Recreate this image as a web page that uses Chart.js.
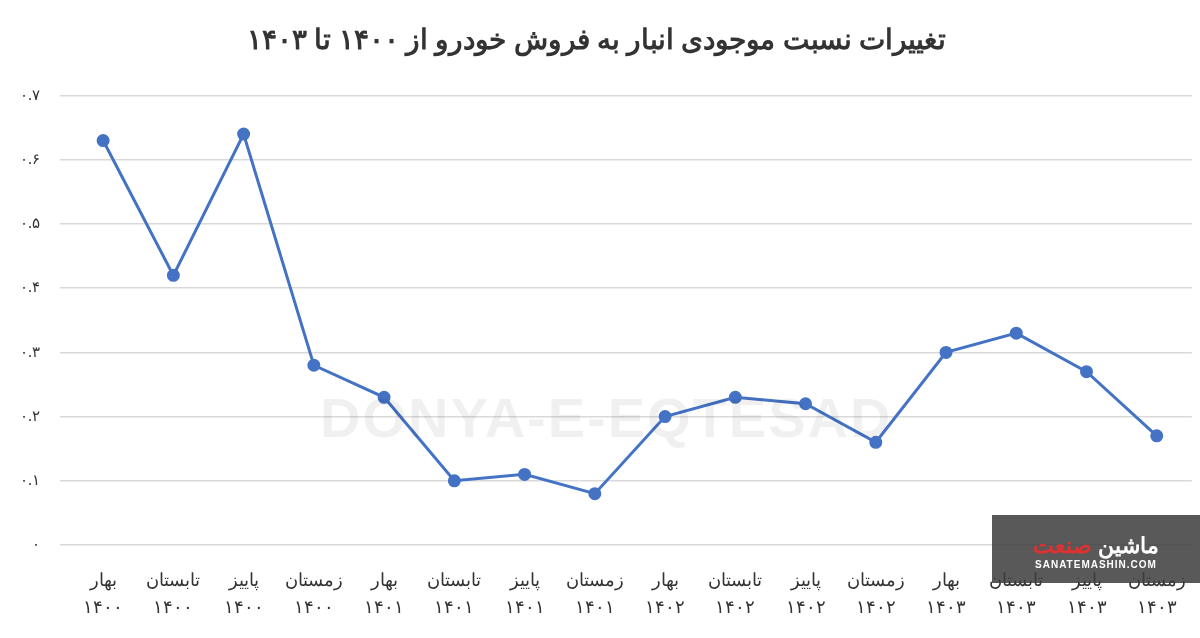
<!DOCTYPE html>
<html><head><meta charset="utf-8">
<script src="https://cdn.jsdelivr.net/npm/chart.js@4"></script>
<style>
body{margin:0;background:#fff;font-family:"Noto Sans","DejaVu Sans",sans-serif;}
#wrap{position:relative;width:1200px;height:638px;}
#logo{position:absolute;left:992px;top:515px;width:208px;height:68px;background:rgba(60,60,60,0.85);color:#fff;text-align:center;}
#wm{position:absolute;left:320px;top:385px;font:bold 56px "Liberation Sans",sans-serif;color:rgba(0,0,0,0.06);letter-spacing:2px;}
</style></head><body>
<div id="wrap"><canvas id="c" width="1200" height="638"></canvas>
<div id="wm">DONYA-E-EQTESAD</div>
<div id="logo"><div style="font:bold 22px 'Noto Sans';margin-top:14px;direction:rtl"><span>ماشین</span> <span style="color:#e03030">صنعت</span></div><div style="font:bold 10px 'Liberation Sans';letter-spacing:1px">SANATEMASHIN.COM</div></div>
</div>
<script>
const seasons=["بهار","تابستان","پاییز","زمستان"];
const years=["۱۴۰۰","۱۴۰۱","۱۴۰۲","۱۴۰۳"];
const categories=[];
years.forEach(y=>seasons.forEach(s=>categories.push([s,y])));
const ratios=[0.63,0.42,0.64,0.28,0.23,0.10,0.11,0.08,0.20,0.23,0.22,0.16,0.30,0.33,0.27,0.17];
const tickLabels={0:"۰",0.1:"۰.۱",0.2:"۰.۲",0.3:"۰.۳",0.4:"۰.۴",0.5:"۰.۵",0.6:"۰.۶",0.7:"۰.۷"};
new Chart(document.getElementById('c'),{type:'line',
data:{labels:categories,datasets:[{data:ratios,borderColor:'#4472C4',backgroundColor:'#4472C4',borderWidth:3,pointRadius:5,pointHoverRadius:5,tension:0}]},
options:{responsive:false,animation:false,
layout:{padding:{left:0,right:7,top:0,bottom:3}},
plugins:{legend:{display:false},title:{display:true,text:'تغییرات نسبت موجودی انبار به فروش خودرو از ۱۴۰۰ تا ۱۴۰۳',font:{size:28,family:'Noto Sans',weight:'bold'},color:'#333',padding:{top:24,bottom:38}}},
scales:{x:{offset:true,grid:{display:false},border:{display:false},ticks:{maxRotation:0,color:'#333',font:{size:18,family:'Noto Sans',lineHeight:1.5},padding:14}},
y:{min:0,max:0.7,grid:{color:'#d9d9d9',lineWidth:1.5},border:{display:false},
ticks:{stepSize:0.1,color:'#333',font:{size:15,family:'Noto Sans'},padding:20,callback:v=>tickLabels[Math.round(v*10)/10]}}}}});
</script></body></html>
